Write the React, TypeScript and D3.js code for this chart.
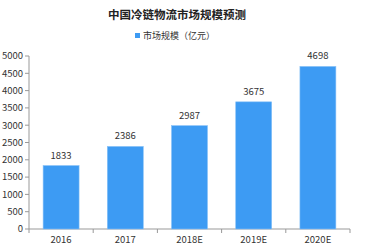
import React from "react";
import * as d3 from "d3";

const categories = ["2016", "2017", "2018E", "2019E", "2020E"];
const values = [1833, 2386, 2987, 3675, 4698];
const yTicks = [0, 500, 1000, 1500, 2000, 2500, 3000, 3500, 4000, 4500, 5000];
const title = "中国冷链物流市场规模预测";
const legendLabel = "市场规模（亿元）";

export default function App() {
  const W = 366, H = 248;
  const left = 29, right = 350, top = 56, bottom = 229;
  const x = d3.scaleBand<string>().domain(categories).range([left, right]).paddingInner(0).paddingOuter(0);
  const y = d3.scaleLinear().domain([0, 5000]).range([bottom, top]);
  const bw = x.bandwidth() * 0.56;
  const font = "'Microsoft YaHei', 'Noto Sans CJK SC', 'DejaVu Sans', sans-serif";
  return (
    <svg width={W} height={H} style={{ position: "absolute", left: 0, top: 0, fontFamily: font }}>
      <rect x={0} y={0} width={W} height={H} fill="#fff" />
      <text x={177} y={19} textAnchor="middle" fontSize={11.5} fontWeight="bold" fill="#222">{title}</text>
      <rect x={135} y={33} width={5} height={5} fill="#3d9bf3" />
      <text x={143} y={39} fontSize={9} fill="#333">{legendLabel}</text>
      {/* y axis */}
      <line x1={left} x2={left} y1={top} y2={bottom} stroke="#999" />
      {yTicks.map((t) => (
        <g key={t}>
          <line x1={left - 4} x2={left} y1={y(t)} y2={y(t)} stroke="#999" />
          <text x={left - 6} y={y(t)} dy="0.35em" textAnchor="end" fontSize={9.5} fill="#333">{t}</text>
        </g>
      ))}
      {/* x axis */}
      <line x1={left} x2={right} y1={bottom} y2={bottom} stroke="#999" />
      {[...categories.map((c) => x(c)!), right].map((px, i) => (
        <line key={i} x1={px} x2={px} y1={bottom} y2={bottom + 4} stroke="#999" />
      ))}
      {categories.map((c, i) => {
        const cx = x(c)! + x.bandwidth() / 2;
        return (
          <g key={c}>
            <rect x={cx - bw / 2} y={y(values[i])} width={bw} height={bottom - y(values[i])} fill="#3d9bf3" stroke="#86c0f7" strokeWidth={0.6} />
            <text x={cx} y={y(values[i]) - 7} textAnchor="middle" fontSize={9.5} fill="#333">{values[i]}</text>
            <text x={cx} y={240} dy="0.35em" textAnchor="middle" fontSize={9.5} fill="#333">{c}</text>
          </g>
        );
      })}
    </svg>
  );
}
